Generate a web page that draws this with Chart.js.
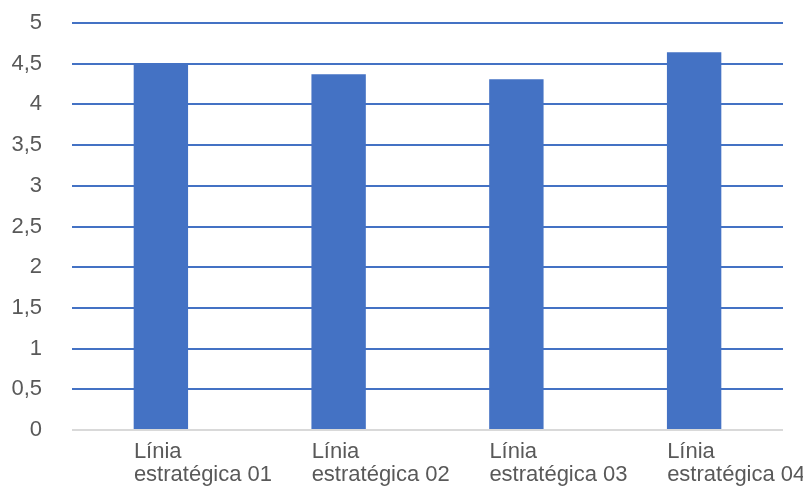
<!DOCTYPE html>
<html>
<head>
<meta charset="utf-8">
<script src="https://cdn.jsdelivr.net/npm/chart.js@4/dist/chart.umd.min.js"></script>
<style>
  html, body { margin: 0; padding: 0; background: #ffffff; }
  #wrap { width: 803px; height: 491px; position: relative; }
</style>
</head>
<body>
<div id="wrap"><canvas id="c" width="803" height="491"></canvas></div>
<script>
const categories = [
  ['Línia', 'estratégica 01'],
  ['Línia', 'estratégica 02'],
  ['Línia', 'estratégica 03'],
  ['Línia', 'estratégica 04']
];
const values = [4.49, 4.37, 4.31, 4.64];
const yTickLabels = ['0', '0,5', '1', '1,5', '2', '2,5', '3', '3,5', '4', '4,5', '5'];

const FONT = "'Liberation Sans', Arial, sans-serif";
const TEXT = '#595959';

new Chart(document.getElementById('c'), {
  type: 'bar',
  data: {
    labels: categories,
    datasets: [{
      data: values,
      backgroundColor: '#4472C4',
      borderWidth: 0,
      categoryPercentage: 1,
      barPercentage: 0.306
    }]
  },
  options: {
    responsive: false,
    animation: false,
    devicePixelRatio: 1,
    layout: { padding: { top: 23, right: 20, left: 0, bottom: 0 } },
    plugins: { legend: { display: false }, tooltip: { enabled: false } },
    scales: {
      x: {
        grid: { display: false, drawTicks: false },
        border: { display: false },
        ticks: {
          align: 'start',
          labelOffset: -27,
          padding: 11,
          color: TEXT,
          autoSkip: false,
          maxRotation: 0,
          font: { family: FONT, size: 22, lineHeight: 1.02 }
        },
        afterFit: (scale) => { scale.height = 61; scale.paddingLeft = 0; scale.paddingRight = 0; }
      },
      y: {
        min: 0,
        max: 5,
        ticks: {
          stepSize: 0.5,
          padding: 30,
          color: TEXT,
          font: { family: FONT, size: 22 },
          callback: (v, i) => yTickLabels[i]
        },
        grid: {
          drawTicks: false,
          lineWidth: 2,
          color: (ctx) => (ctx.tick && ctx.tick.value === 0) ? '#d9d9d9' : '#4472C4'
        },
        border: { display: false },
        afterFit: (scale) => { scale.width = 72; scale.paddingTop = 0; scale.paddingBottom = 0; }
      }
    }
  }
});
</script>
</body>
</html>
